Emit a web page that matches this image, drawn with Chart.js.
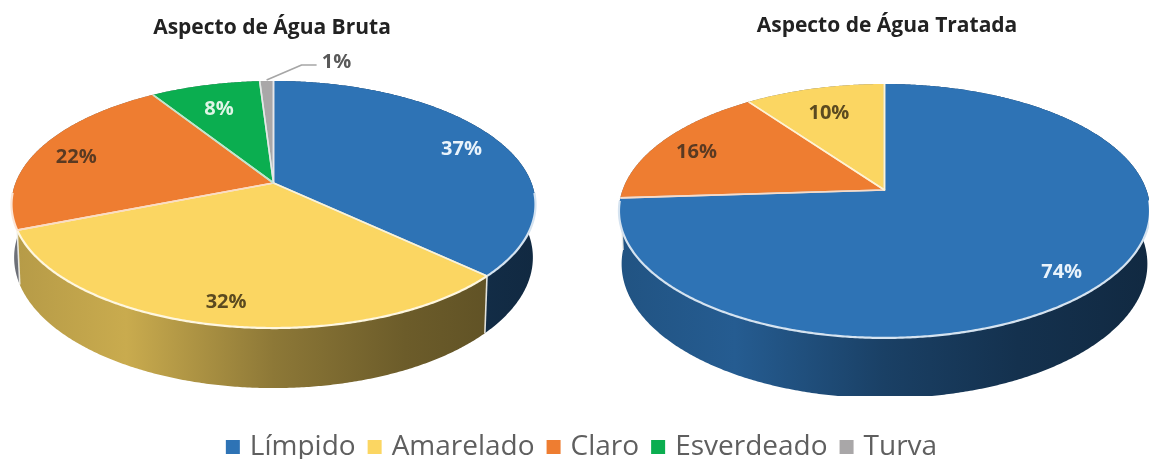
<!DOCTYPE html>
<html lang="pt">
<head>
<meta charset="utf-8">
<title>Aspecto de Água</title>
<script src="https://cdn.jsdelivr.net/npm/chart.js@4"></script>
<style>
html,body{margin:0;padding:0;background:#fff;overflow:hidden}
canvas{display:block;filter:blur(.4px)}
</style>
</head>
<body>
<canvas id="c" width="1149" height="459"></canvas>
<script>
const categories = ['Límpido', 'Amarelado', 'Claro', 'Esverdeado', 'Turva'];
const categoryColors = {'Límpido': '#2e73b5', 'Amarelado': '#fbd662', 'Claro': '#ee7d31', 'Esverdeado': '#0bae50', 'Turva': '#a9a7a8'};
const categoryLabelColors = {'Límpido': '#e9f3fb', 'Amarelado': '#5b4a20', 'Claro': '#5a3a22', 'Esverdeado': '#dff5e6', 'Turva': '#595959'};
const aguaBruta = [37, 32, 22, 8, 1];
// slices of the second pie run clockwise in this order in the picture
const tratadaCategories = ['Límpido', 'Claro', 'Amarelado'];
const aguaTratada = [74, 16, 10];
const titles = ['Aspecto de Água Bruta', 'Aspecto de Água Tratada'];

// Perspective of each pie: apex, radii, tilt, and the lower rim of the wall.
const views = [
  {names: categories, cx: 273.5, cy: 183, rx: 258, ry: 119.8, a: -0.174, depth: 51.8, sx: 0.99, sy: 1.057, titleX: 272, titleY: 28},
  {names: tratadaCategories, cx: 884.5, cy: 190, rx: 261.9, ry: 123.5, a: -0.165, depth: 51.8, sx: 0.99, sy: 1.057, titleX: 887, titleY: 26}
];
const wallLight = [[0, .72], [.22, .8], [.5, .56], [.75, .43], [1, .36]];
const backWall = '#6d7078';
const clipBottom = 396;
const legendBoxShift = 4;

function rgb(hex){ return [1,3,5].map(i => parseInt(hex.substr(i,2),16)); }
function shade(hex,f){ const c=rgb(hex); return `rgb(${c.map(v=>Math.round(v*f)).join(',')})`; }
function tint(hex,f){ const c=rgb(hex); return `rgb(${c.map(v=>Math.round(v+(255-v)*f)).join(',')})`; }

function project(v, theta, rho){
  const p = rho === undefined ? 1 : rho;
  const U = Math.cos(theta)*p, V = Math.sin(theta)*p, w = 1 + v.a*V;
  return {x: v.rx*U/w, y: v.ry*V/w};
}
function topPt(v, theta, rho){ const q = project(v,theta,rho); return {x: v.cx+q.x, y: v.cy+q.y}; }
function lowPt(v, theta){ const q = project(v,theta); return {x: v.cx+q.x*v.sx, y: v.cy+v.depth+q.y*v.sy}; }
function rimAngles(a,b){ const out=[]; const n=Math.max(2,Math.ceil((b-a)/0.008)); for(let i=0;i<=n;i++) out.push(a+(b-a)*i/n); return out; }
function midAngle(el){ return (el.startAngle+el.endAngle)/2; }
function midSin(el){ return Math.sin(midAngle(el)); }
function isBackLeft(el){ return Math.sin(midAngle(el)) < 0 && Math.cos(midAngle(el)) < 0; }

const piePainter = {
  id: 'piePainter',
  beforeDatasetDraw(){ return false; },
  afterDatasetsDraw(chart){
    const ctx = chart.ctx;
    views.forEach((v, d) => {
      const arcs = chart.getDatasetMeta(d).data;
      const data = chart.data.datasets[d].data;
      const fill = i => categoryColors[v.names[i]];
      const left = v.cx - v.rx*1.02, width = v.rx*2.04;

      // walls, back slices first
      ctx.save();
      ctx.beginPath(); ctx.rect(0,0,chart.width,clipBottom); ctx.clip();
      arcs.map((el,i)=>({el,i})).sort((p,q)=>midSin(p.el)-midSin(q.el)).forEach(({el,i}) => {
        const grad = ctx.createLinearGradient(left,0,left+width,0);
        wallLight.forEach(s => grad.addColorStop(s[0], shade(fill(i), s[1])));
        const A = rimAngles(el.startAngle, el.endAngle);
        ctx.beginPath();
        A.forEach((t,k)=>{ const p=topPt(v,t); k?ctx.lineTo(p.x,p.y):ctx.moveTo(p.x,p.y); });
        A.slice().reverse().forEach(t=>{ const p=lowPt(v,t); ctx.lineTo(p.x,p.y); });
        ctx.closePath();
        ctx.fillStyle = isBackLeft(el) ? backWall : grad; ctx.fill();
      });
      // seams on the visible wall
      arcs.forEach((el) => {
        if(Math.sin(el.startAngle) <= 0.05) return;
        const a=topPt(v,el.startAngle), b=lowPt(v,el.startAngle);
        ctx.beginPath(); ctx.moveTo(a.x,a.y); ctx.lineTo(b.x,b.y);
        ctx.strokeStyle='rgba(240,240,235,.9)'; ctx.lineWidth=1.6; ctx.stroke();
      });
      ctx.restore();

      // top faces
      arcs.forEach((el,i) => {
        ctx.beginPath(); ctx.moveTo(v.cx,v.cy);
        rimAngles(el.startAngle, el.endAngle).forEach(t=>{ const p=topPt(v,t); ctx.lineTo(p.x,p.y); });
        ctx.closePath();
        ctx.fillStyle = fill(i); ctx.fill();
      });
      // radial edges and front rim
      ctx.lineJoin='round';
      arcs.forEach((el,i) => {
        ctx.strokeStyle = tint(fill(i), .72); ctx.lineWidth = 1.6;
        ctx.beginPath();
        const s=topPt(v,el.startAngle), e=topPt(v,el.endAngle);
        ctx.moveTo(s.x,s.y); ctx.lineTo(v.cx,v.cy); ctx.lineTo(e.x,e.y);
        ctx.stroke();
        ctx.strokeStyle = tint(fill(i), .8); ctx.lineWidth = 2.2;
        ctx.beginPath();
        let on=false;
        rimAngles(el.startAngle, el.endAngle).forEach(t=>{
          if(Math.sin(t) > 0.08){ const p=topPt(v,t); on?ctx.lineTo(p.x,p.y):ctx.moveTo(p.x,p.y); on=true; } else on=false;
        });
        ctx.stroke();
      });

      // title
      ctx.textAlign='center'; ctx.textBaseline='middle';
      ctx.font='700 21px "Open Sans"'; ctx.fillStyle='#222';
      ctx.fillText(titles[d], v.titleX, v.titleY);

      // percentage labels
      ctx.font='700 20px "Open Sans"';
      arcs.forEach((el,i) => {
        const mid=midAngle(el);
        const text=data[i]+'%';
        const color=categoryLabelColors[v.names[i]];
        if(data[i] < 5){
          const p=topPt(v,mid), q={x:p.x+35,y:p.y-16};
          ctx.beginPath(); ctx.moveTo(p.x,p.y-1); ctx.lineTo(q.x,q.y); ctx.lineTo(q.x+15,q.y);
          ctx.strokeStyle='#a6a6a6'; ctx.lineWidth=1.6; ctx.stroke();
          ctx.fillStyle=color;
          ctx.fillText(text,q.x+35,q.y-3);
          return;
        }
        const p=topPt(v,mid,data[i] <= 10 ? .77 : .84);
        ctx.fillStyle=color;
        ctx.fillText(text,p.x,p.y+4);
      });
    });
  },
  afterDraw(chart){
    // legend swatches sit a little closer to their text than the library's gap
    const ctx = chart.ctx, lg = chart.legend;
    lg.legendItems.forEach((item,i) => {
      const hb = lg.legendHitBoxes[i];
      ctx.fillStyle = categoryColors[item.text];
      ctx.fillRect(hb.left + legendBoxShift, hb.top + hb.height/2 - 7, 14, 14);
    });
  }
};

new Chart(document.getElementById('c'), {
  type: 'pie',
  data: {
    labels: categories,
    datasets: [
      {label: titles[0], data: aguaBruta, backgroundColor: categories.map(n => categoryColors[n]), borderWidth: 0},
      {label: titles[1], data: aguaTratada, backgroundColor: tratadaCategories.map(n => categoryColors[n]), borderWidth: 0}
    ]
  },
  options: {
    responsive: false,
    animation: false,
    events: [],
    layout: {padding: {left: 10, bottom: -12}},
    plugins: {
      tooltip: {enabled: false},
      title: {display: false},
      legend: {
        display: true,
        position: 'bottom',
        labels: {
          boxWidth: 14, boxHeight: 14, padding: 8,
          color: '#5f5f5f',
          font: {family: '"Open Sans"', size: 28},
          generateLabels(chart){
            return Chart.overrides.pie.plugins.legend.labels.generateLabels(chart)
              .map(l => Object.assign(l, {fillStyle: 'rgba(0,0,0,0)', strokeStyle: 'rgba(0,0,0,0)', lineWidth: 0}));
          }
        }
      }
    }
  },
  plugins: [piePainter]
});
</script>
</body>
</html>
